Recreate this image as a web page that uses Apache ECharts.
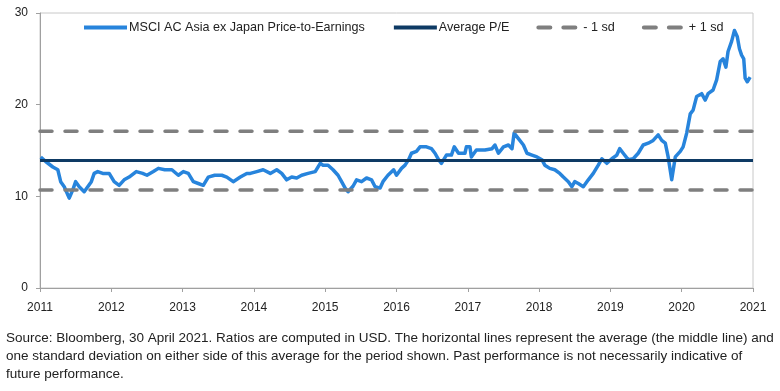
<!DOCTYPE html>
<html>
<head>
<meta charset="utf-8">
<script src="https://cdn.jsdelivr.net/npm/echarts@6/dist/echarts.min.js"></script>
<style>
html,body{margin:0;padding:0;background:#fff;}
#chart{width:780px;height:391px;}
</style>
</head>
<body>
<div id="chart"></div>
<script>
// Decimal-year positions and P/E values
const years = [
2011.01,2011.08,2011.18,2011.25,2011.29,2011.34,2011.41,2011.46,2011.50,2011.55,2011.62,2011.67,2011.72,2011.76,2011.81,2011.88,2011.97,
2012.04,2012.11,2012.18,2012.25,2012.35,2012.44,2012.50,2012.59,2012.66,2012.75,2012.85,2012.94,
2013.01,2013.08,2013.15,2013.22,2013.29,2013.36,2013.45,2013.55,2013.62,2013.71,2013.81,2013.90,2013.95,
2014.04,2014.13,2014.23,2014.32,2014.39,2014.46,2014.53,2014.60,2014.67,2014.76,2014.86,2014.93,2014.97,
2015.04,2015.11,2015.18,2015.23,2015.28,2015.32,2015.39,2015.44,2015.51,2015.58,2015.65,2015.70,2015.77,2015.81,2015.88,2015.96,
2016.00,2016.07,2016.12,2016.17,2016.21,2016.28,2016.33,2016.42,2016.49,2016.54,2016.59,2016.63,2016.70,2016.77,2016.81,2016.87,2016.89,2016.96,2016.98,
2017.03,2017.05,2017.12,2017.24,2017.34,2017.38,2017.43,2017.50,2017.57,2017.62,2017.65,2017.71,2017.78,2017.83,2017.90,2017.97,
2018.04,2018.08,2018.15,2018.22,2018.29,2018.34,2018.41,2018.46,2018.50,2018.55,2018.62,2018.69,2018.76,2018.83,2018.88,2018.95,
2019.02,2019.09,2019.13,2019.18,2019.25,2019.32,2019.39,2019.46,2019.53,2019.60,2019.67,2019.72,2019.77,2019.81,2019.86,2019.91,2019.98,
2020.02,2020.07,2020.12,2020.16,2020.21,2020.28,2020.33,2020.37,2020.44,2020.49,2020.54,2020.58,2020.62,2020.65,2020.70,2020.74,2020.78,2020.81,2020.84,2020.87,2020.89,2020.92,2020.96
];
const pe = [
14.3,13.8,13.2,12.9,11.6,11.05,9.8,10.7,11.6,11.05,10.5,11.05,11.6,12.5,12.7,12.5,12.5,
11.6,11.2,11.8,12.1,12.7,12.5,12.3,12.7,13.05,12.9,12.9,12.3,
12.7,12.5,11.6,11.4,11.2,12.1,12.3,12.3,12.1,11.6,12.1,12.5,12.5,
12.7,12.9,12.5,12.9,12.5,11.8,12.1,12.0,12.3,12.5,12.7,13.6,13.4,
13.4,12.9,12.3,11.6,10.9,10.5,11.1,11.8,11.6,12.0,11.8,11.05,10.9,11.6,12.3,12.9,
12.3,13.05,13.4,14.0,14.7,14.9,15.4,15.4,15.2,14.7,14.0,13.6,14.5,14.5,15.4,14.7,14.7,14.7,15.4,
15.4,14.3,15.05,15.05,15.2,15.6,14.7,15.4,15.6,15.2,16.9,16.3,15.6,14.7,14.5,14.3,
14.0,13.4,13.05,12.9,12.5,12.1,11.6,11.05,11.6,11.4,11.05,11.8,12.5,13.4,14.1,13.6,
14.1,14.5,15.2,14.7,14.0,14.1,14.7,15.6,15.8,16.1,16.7,16.1,15.8,14.3,11.8,14.3,14.9,
15.4,16.9,19.0,19.4,20.9,21.2,20.5,21.2,21.6,22.7,24.7,25.0,24.1,25.8,26.9,28.1,27.4,26.1,25.4,25.0,22.9,22.5,23.0
];
const avgPE = 13.9;
const minus1sd = 10.7;
const plus1sd = 17.1;
const xStart = 2011, xEnd = 2021;
const yTicks = [0, 10, 20, 30];
const seriesNames = ['MSCI AC Asia ex Japan Price-to-Earnings', 'Average P/E', '- 1 sd', '+ 1 sd'];
const caption = 'Source: Bloomberg, 30 April 2021. Ratios are computed in USD. The horizontal lines represent the average (the middle line) and\none standard deviation on either side of this average for the period shown. Past performance is not necessarily indicative of\nfuture performance.';

const peData = years.map((y, i) => [y, pe[i]]);
const flat = v => [[xStart, v], [xEnd, v]];
const FONT = '"Liberation Sans", Arial, sans-serif';

const chart = echarts.init(document.getElementById('chart'), null, {renderer: 'canvas'});
chart.setOption({
  animation: false,
  backgroundColor: '#fff',
  textStyle: {fontFamily: FONT},
  grid: {left: 40, right: 27, top: 13, bottom: 103, show: true, borderColor: '#c8c8c8', borderWidth: 1},
  legend: {
    left: 77, top: 16, itemWidth: 43, itemHeight: 14, itemGap: 27,
    itemStyle: {opacity: 0},
    lineStyle: {width: 4},
    textStyle: {fontSize: 12.6, color: '#222', fontFamily: FONT, padding: [0, 0, 0, -3]},
    data: seriesNames
  },
  xAxis: {
    type: 'value', min: xStart, max: xEnd, interval: 1,
    axisLine: {show: true, lineStyle: {color: '#a0a0a0'}},
    axisTick: {show: true, length: 4, lineStyle: {color: '#a0a0a0'}},
    axisLabel: {fontSize: 12, color: '#222', margin: 14, formatter: v => String(v)},
    splitLine: {show: false}
  },
  yAxis: {
    type: 'value', min: yTicks[0], max: yTicks[yTicks.length-1], interval: 10,
    axisLine: {show: true, lineStyle: {color: '#a0a0a0'}},
    axisTick: {show: true, length: 4, lineStyle: {color: '#a0a0a0'}},
    axisLabel: {fontSize: 12, color: '#222', margin: 12},
    splitLine: {show: false}
  },
  series: [
    {name: seriesNames[0], type: 'line', data: peData, symbol: 'none', lineStyle: {color: '#2784dc', width: 3.5, join: 'round'}, itemStyle: {color: '#2784dc'}, z: 2},
    {name: seriesNames[1], type: 'line', data: flat(avgPE), symbol: 'none', lineStyle: {color: '#0e3a64', width: 3}, itemStyle: {color: '#0e3a64'}, z: 3},
    {name: seriesNames[2], type: 'line', data: flat(minus1sd), symbol: 'none', lineStyle: {color: '#7f7f7f', width: 3.5, type: [12, 13], cap: 'round'}, itemStyle: {color: '#7f7f7f'}, z: 3},
    {name: seriesNames[3], type: 'line', data: flat(plus1sd), symbol: 'none', lineStyle: {color: '#7f7f7f', width: 3.5, type: [12, 13], cap: 'round'}, itemStyle: {color: '#7f7f7f'}, z: 3}
  ],
  graphic: [{
    type: 'text', left: 6, top: 329,
    style: {text: caption, font: '13.5px "Liberation Sans", Arial, sans-serif', fill: '#222', lineHeight: 18}
  }]
});
</script>
</body>
</html>
